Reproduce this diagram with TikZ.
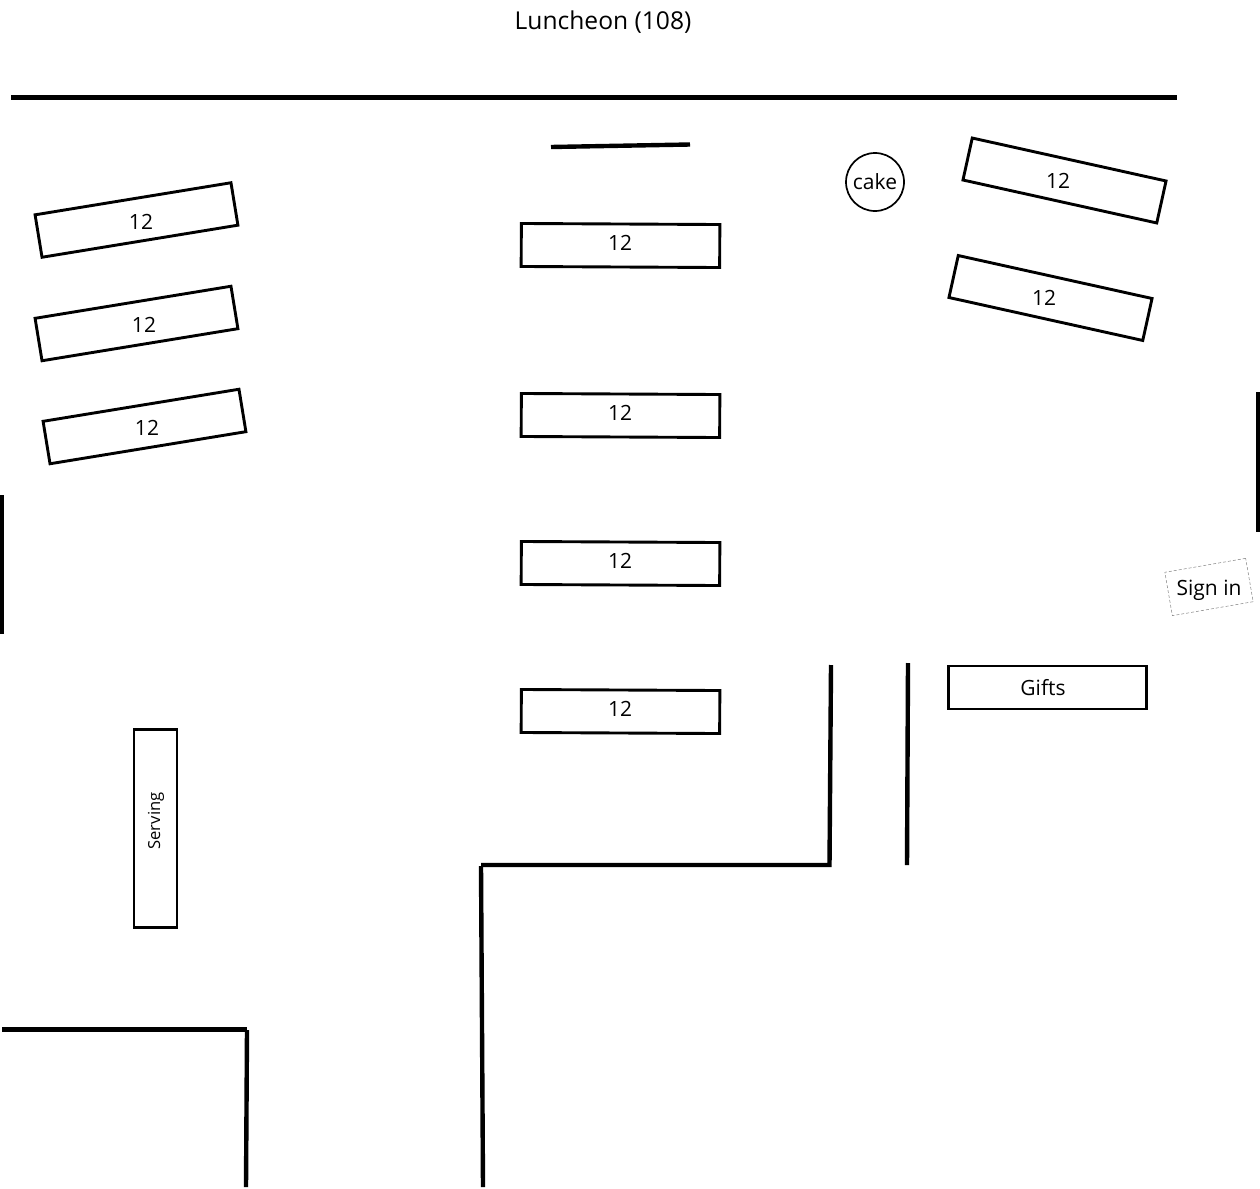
\documentclass[tikz,border=0pt]{standalone}
\usepackage{fontspec}
\setmainfont{Open Sans}
\usetikzlibrary{positioning}
\tikzstyle{tablebox} = [draw, rectangle, line width=2.9pt, minimum width=198.5pt, minimum height=43pt, inner sep=0pt, outer sep=0pt]
\tikzstyle{tabletext} = [inner sep=0pt, font=\fontsize{21}{25}\selectfont]
\tikzstyle{wall} = [line width=4.4pt]
\begin{document}
\begin{tikzpicture}[x=1pt, y=-1pt]
    \useasboundingbox (0,0) rectangle (1260,1188);

    \node[inner sep=0pt, font=\fontsize{24.6}{28}\selectfont] (title) at (603,22) {Luncheon (108)};

    \draw[wall] (11,97.5) -- (1177,97.5);
    \draw[wall] (551,147) -- (690,144.5);
    \draw[wall] (2,495) -- (2,634);
    \draw[wall, line width=5pt] (1258,392) -- (1258,532);
    \draw[wall, line join=miter] (831,665) -- (829.5,865) -- (481,865);
    \draw[wall] (481,866) -- (483,1187);
    \draw[wall] (908,663) -- (907,865);
    \draw[wall] (2,1029.5) -- (247,1029.5);
    \draw[wall] (247,1030) -- (246,1187);

    \node[tablebox, rotate=9.3] (left_a) at (136.5,220) {};
    \node[tablebox, rotate=9.3] (left_b) at (136.5,323.5) {};
    \node[tablebox, rotate=9.3] (left_c) at (144.5,426.5) {};
    \node[tabletext] (left_a_txt) at (141,221.5) {12};
    \node[tabletext] (left_b_txt) at (144,324.5) {12};
    \node[tabletext] (left_c_txt) at (147,427.5) {12};

    \node[tablebox, rotate=-0.3] (mid_a) at (620.5,245.5) {};
    \node[tablebox, rotate=-0.3] (mid_b) at (620.5,415.5) {};
    \node[tablebox, rotate=-0.3] (mid_c) at (620.5,563.5) {};
    \node[tablebox, rotate=-0.3] (mid_d) at (620.5,711.5) {};
    \node[tabletext] (mid_a_txt) at (620,243) {12};
    \node[tabletext] (mid_b_txt) at (620,413) {12};
    \node[tabletext] (mid_c_txt) at (620,561) {12};
    \node[tabletext] (mid_d_txt) at (620,709) {12};

    \node[tablebox, rotate=-12.5] (right_a) at (1064.5,180.5) {};
    \node[tablebox, rotate=-12.5] (right_b) at (1050.5,298) {};
    \node[tabletext] (right_a_txt) at (1058,181) {12};
    \node[tabletext] (right_b_txt) at (1044,298) {12};

    \node[draw, circle, line width=1.7pt, minimum size=58pt, inner sep=0pt, font=\fontsize{21}{25}\selectfont] (cake) at (875,182) {cake};

    \node[tablebox] (gifts) at (1047.5,687.5) {};
    \node[tabletext] (gifts_txt) at (1043,688) {Gifts};

    \node[tablebox, rotate=90] (serving) at (155.5,828.5) {};
    \node[tabletext, rotate=90, font=\fontsize{16.6}{20}\selectfont] (serving_txt) at (156,821) {Serving};

    \node[draw=gray, line width=0.5pt, densely dashed, rectangle, minimum width=82pt, minimum height=44pt, rotate=9.8] (signin) at (1209,587) {};
    \node[tabletext] (signin_txt) at (1209,590) {Sign in};
\end{tikzpicture}
\end{document}
